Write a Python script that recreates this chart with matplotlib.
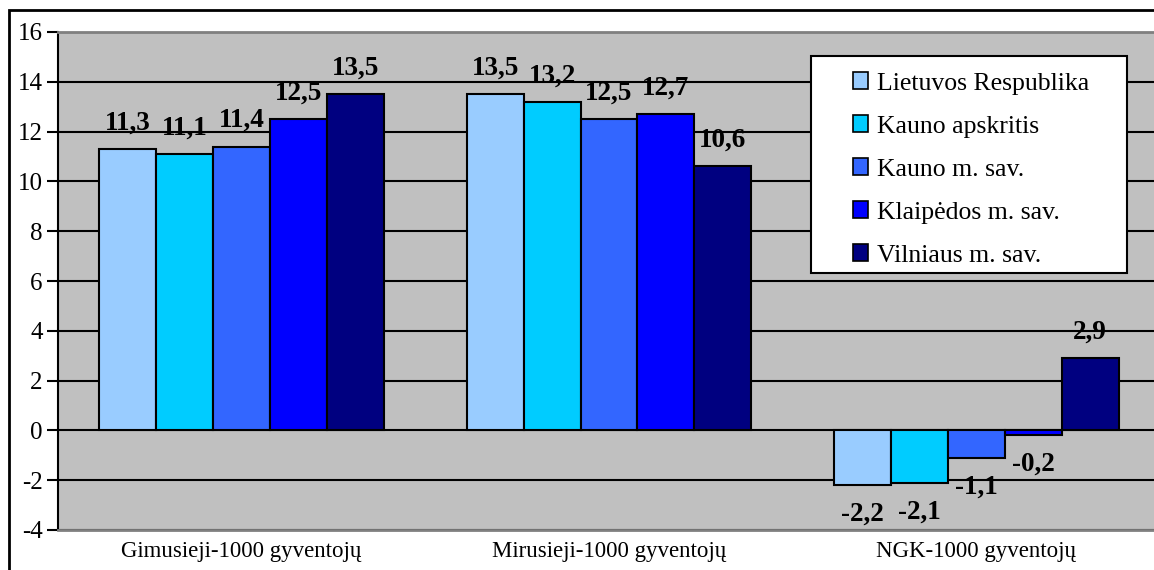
import matplotlib.pyplot as plt
import numpy as np
from matplotlib.patches import Rectangle

categories = ["Gimusieji-1000 gyventojų", "Mirusieji-1000 gyventojų", "NGK-1000 gyventojų"]
series_names = ["Lietuvos Respublika", "Kauno apskritis", "Kauno m. sav.", "Klaipėdos m. sav.", "Vilniaus m. sav."]
lietuvos = [11.3, 13.5, -2.2]
kauno_aps = [11.1, 13.2, -2.1]
kauno_m = [11.4, 12.5, -1.1]
klaipedos = [12.5, 12.7, -0.2]
vilniaus = [13.5, 10.6, 2.9]
series_values = [lietuvos, kauno_aps, kauno_m, klaipedos, vilniaus]
colors = ["#99CCFF", "#00CCFF", "#3366FF", "#0000FF", "#000080"]
y_ticks = list(range(-4, 17, 2))

plt.rcParams["font.family"] = ["Liberation Serif", "DejaVu Serif"]

fig = plt.figure(figsize=(11.54, 5.70), dpi=100)
ax = fig.add_axes([58 / 1154, 40 / 570, 1102 / 1154, 498 / 570])
ax.set_facecolor("#C0C0C0")

# outer chart border (only top and left visible)
fig.patches.append(Rectangle((9 / 1154, -0.1), 1.2, 1 - 10 / 570 + 0.1, transform=fig.transFigure,
                             fill=False, edgecolor="black", linewidth=2))

x = np.arange(len(categories))
width = 0.155
for i, (name, vals, col) in enumerate(zip(series_names, series_values, colors)):
    pos = x + (i - 2) * width
    ax.bar(pos, vals, width, color=col, edgecolor="black", linewidth=1.5, label=name, zorder=3)
    for px, v in zip(pos, vals):
        off = 26 if v >= 0 else -29
        ax.annotate(f"{v:.1f}".replace(".", ","), (px, v), xytext=(0, off), textcoords="offset pixels",
                    ha="center", va="center", fontsize=19.5, fontweight="bold", zorder=4)

ax.set_xlim(-0.5, 2.5)
ax.set_ylim(-4, 16)
ax.set_yticks(y_ticks)
ax.set_yticklabels([str(t) for t in y_ticks], fontsize=18)
ax.yaxis.grid(True, color="black", linewidth=1.5, zorder=1)
ax.set_axisbelow(True)
ax.tick_params(axis="y", length=8, width=1.5, pad=3)
ax.set_xticks(x)
ax.set_xticklabels(categories, fontsize=16.5)
ax.tick_params(axis="x", length=0, pad=8)

ax.spines["left"].set_linewidth(1.5)
ax.spines["right"].set_visible(False)
ax.spines["top"].set_color("#808080")
ax.spines["top"].set_linewidth(2)
ax.spines["bottom"].set_color("#808080")
ax.spines["bottom"].set_linewidth(2)

# legend box drawn separately so the padding matches the original
ax.add_patch(Rectangle((0.6833, 0.516), 0.970 - 0.6833, 0.952 - 0.516, transform=ax.transAxes,
                       facecolor="white", edgecolor="black", linewidth=1.5, zorder=5))
leg = ax.legend(loc="upper left", bbox_to_anchor=(0.7214, 0.919), fontsize=18.5, frameon=False,
                borderpad=0, borderaxespad=0, handlelength=0.6, handleheight=0.6,
                handletextpad=0.35, labelspacing=0.81)
leg.set_zorder(6)
for h in leg.legend_handles:
    h.set_linewidth(1.2)

fig.savefig("out.png", dpi=100)
